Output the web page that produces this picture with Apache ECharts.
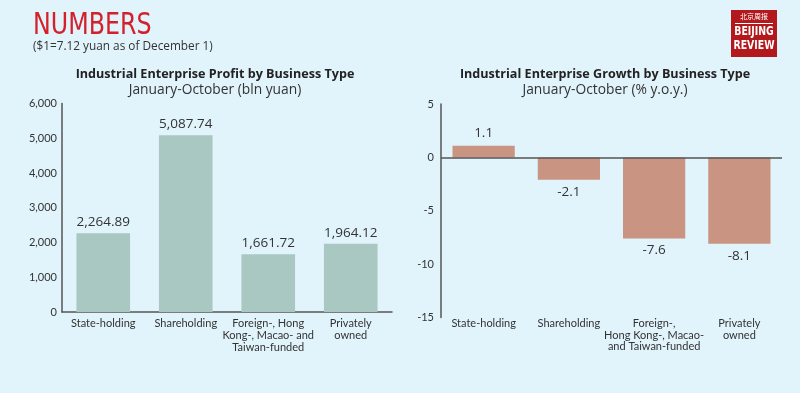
<!DOCTYPE html>
<html>
<head>
<meta charset="utf-8">
<script src="https://cdn.jsdelivr.net/npm/echarts@6/dist/echarts.min.js"></script>
<style>
html,body{margin:0;padding:0;background:#e1f3fb;}
#chart{width:800px;height:393px;}
</style>
</head>
<body>
<div id="chart"></div>
<script>
const profitCategories = ['State-holding', 'Shareholding', 'Foreign-, Hong\nKong-, Macao- and\nTaiwan-funded', 'Privately\nowned'];
const profitValues = [2264.89, 5087.74, 1661.72, 1964.12];
const growthCategories = ['State-holding', 'Shareholding', 'Foreign-,\nHong Kong-, Macao-\nand Taiwan-funded', 'Privately\nowned'];
const growthValues = [1.1, -2.1, -7.6, -8.1];

const FONT = '"Open Sans", Lato, sans-serif';
const SMALL = 'Lato, "Open Sans", sans-serif';
const TXT = '#333333';
const AXIS = '#555555';
const COND = '"DejaVu Sans Condensed", "Liberation Sans Narrow", sans-serif';

const chart = echarts.init(document.getElementById('chart'));
chart.setOption({
  backgroundColor: '#e1f3fb',
  animation: false,
  textStyle: { fontFamily: FONT },
  title: [
    { text: '($1=7.12 yuan as of December 1)', left: 33, top: 41, padding: 0, textStyle: { color: TXT, fontSize: 11.8, fontWeight: 'normal', fontFamily: FONT } },
    { text: 'Industrial Enterprise Profit by Business Type', subtext: 'January-October (bln yuan)', left: 210, textAlign: 'center', top: 63, itemGap: 2,
      textStyle: { color: '#222', fontSize: 12.6, fontWeight: 'bold', fontFamily: FONT },
      subtextStyle: { color: TXT, fontSize: 13.8, fontFamily: FONT } },
    { text: 'Industrial Enterprise Growth by Business Type', subtext: 'January-October (% y.o.y.)', left: 600, textAlign: 'center', top: 63, itemGap: 2,
      textStyle: { color: '#222', fontSize: 12.6, fontWeight: 'bold', fontFamily: FONT },
      subtextStyle: { color: TXT, fontSize: 13.8, fontFamily: FONT } }
  ],
  graphic: [
    { type: 'text', x: 33, y: 11, scaleX: 0.88, style: { text: 'NUMBERS', fill: '#d4202a', font: '30px ' + COND } },
    { type: 'rect', shape: { x: 731, y: 10, width: 46, height: 47 }, style: { fill: '#b3181c' } },
    { type: 'text', style: { x: 754, y: 13, text: '北京周报', fill: '#fff', font: '7px "Noto Sans CJK SC"', textAlign: 'center' } },
    { type: 'rect', shape: { x: 735, y: 23, width: 38, height: 1 }, style: { fill: '#fff' } },
    { type: 'text', x: 754, y: 25, scaleX: 0.8, style: { x: 0, y: 0, text: 'BEIJING', fill: '#fff', font: 'bold 13px ' + COND, textAlign: 'center' } },
    { type: 'text', x: 754, y: 39, scaleX: 0.8, style: { x: 0, y: 0, text: 'REVIEW', fill: '#fff', font: 'bold 13px ' + COND, textAlign: 'center' } }
  ],
  grid: [
    { left: 62, top: 103.5, width: 330, height: 208.5 },
    { left: 441, top: 104, width: 341, height: 213.5 }
  ],
  xAxis: [
    { type: 'category', gridIndex: 0, data: profitCategories,
      axisLine: { show: true, lineStyle: { color: AXIS, width: 1.5 } },
      axisTick: { show: false },
      axisLabel: { color: TXT, fontSize: 11, fontFamily: SMALL, lineHeight: 11.7, margin: 6, interval: 0 } },
    { type: 'category', gridIndex: 1, data: growthCategories,
      axisLine: { show: false, onZero: false },
      axisTick: { show: false },
      axisLabel: { color: TXT, fontSize: 11, fontFamily: SMALL, lineHeight: 11.7, margin: 0, interval: 0 } }
  ],
  yAxis: [
    { type: 'value', gridIndex: 0, min: 0, max: 6000, interval: 1000,
      axisLine: { show: true, lineStyle: { color: AXIS, width: 1.5 } },
      axisTick: { show: false }, splitLine: { show: false },
      axisLabel: { color: TXT, fontSize: 11, fontFamily: SMALL, margin: 5, formatter: v => v.toLocaleString('en-US') } },
    { type: 'value', gridIndex: 1, min: -15, max: 5, interval: 5,
      axisLine: { show: true, lineStyle: { color: AXIS, width: 1.5 } },
      axisTick: { show: false }, splitLine: { show: false },
      axisLabel: { color: TXT, fontSize: 11, fontFamily: SMALL, margin: 7 } }
  ],
  series: [
    { type: 'bar', xAxisIndex: 0, yAxisIndex: 0, data: profitValues, barWidth: '65%',
      itemStyle: { color: '#a9c8c1' },
      label: { show: true, position: 'top', distance: 4, color: TXT, fontSize: 13.5,
        formatter: p => p.value.toLocaleString('en-US', { minimumFractionDigits: 2, maximumFractionDigits: 2 }) } },
    { type: 'bar', xAxisIndex: 1, yAxisIndex: 1, barWidth: '73%',
      data: growthValues.map(v => ({ value: v, label: { position: v >= 0 ? 'top' : 'bottom' } })),
      itemStyle: { color: '#c99482' },
      label: { show: true, distance: 5, color: TXT, fontSize: 13.5, formatter: p => p.value.toFixed(1) },
      markLine: { silent: true, symbol: 'none', label: { show: false },
        lineStyle: { color: AXIS, width: 1.5, type: 'solid' }, data: [{ yAxis: 0 }] } }
  ]
});
</script>
</body>
</html>
